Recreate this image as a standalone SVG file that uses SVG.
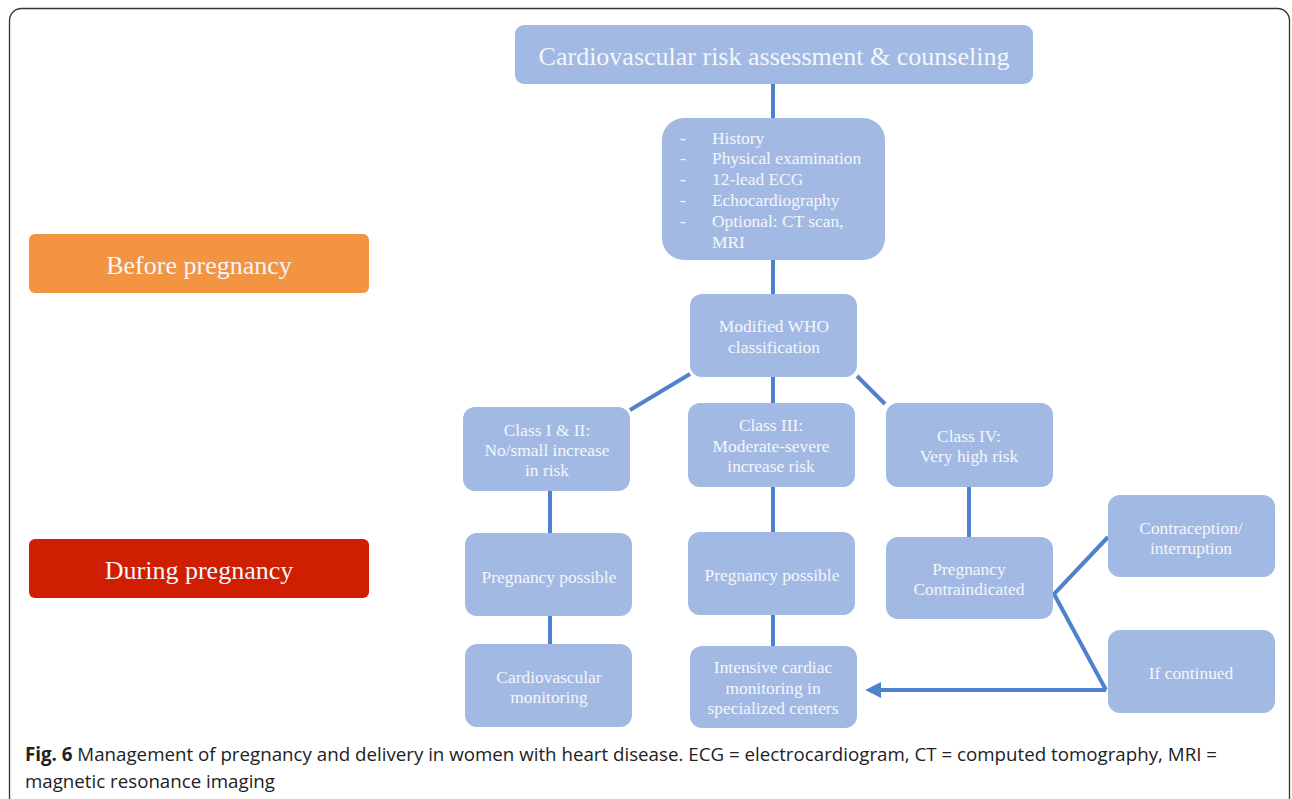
<svg xmlns="http://www.w3.org/2000/svg" width="1292" height="799" viewBox="0 0 1292 799">
<style>
.n{fill:#A2BAE3;}
.t{font-family:"Liberation Serif","Times New Roman",serif;font-size:17.4px;fill:#F4F6FB;text-anchor:middle;}
.tl{font-family:"Liberation Serif","Times New Roman",serif;font-size:17.4px;fill:#F4F6FB;}
.big{font-family:"Liberation Serif","Times New Roman",serif;font-size:26px;fill:#F4F6FB;text-anchor:middle;}
.c{stroke:#4E82CD;stroke-width:4;fill:none;}
.cap{font-family:"Open Sans","Noto Sans","Liberation Sans",sans-serif;font-size:19px;fill:#222;}
</style>
<defs>
<marker id="ah" viewBox="0 0 10 10" refX="2" refY="5" markerWidth="4" markerHeight="4" orient="auto-start-reverse" markerUnits="strokeWidth">
<path d="M0,0 L10,5 L0,10 Z" fill="#4E82CD"/>
</marker>
</defs>
<rect x="0" y="0" width="1292" height="799" fill="#FFFFFF"/>
<rect x="9.5" y="8.5" width="1280" height="830" rx="12" fill="none" stroke="#333" stroke-width="1.3"/>

<g id="connectors">
<line class="c" x1="773" y1="84" x2="773" y2="118"/>
<line class="c" x1="773" y1="260" x2="773" y2="294"/>
<line class="c" x1="690" y1="374" x2="630" y2="410"/>
<line class="c" x1="773" y1="377" x2="773" y2="404"/>
<line class="c" x1="857" y1="376" x2="885" y2="404"/>
<line class="c" x1="550" y1="491" x2="550" y2="533"/>
<line class="c" x1="773" y1="487" x2="773" y2="532"/>
<line class="c" x1="969" y1="487" x2="969" y2="537"/>
<line class="c" x1="550" y1="616" x2="550" y2="645"/>
<line class="c" x1="773" y1="615" x2="773" y2="646"/>
<polyline class="c" points="1108,537 1054,594 1106,690"/>
<line class="c" x1="1106" y1="690" x2="878" y2="690" marker-end="url(#ah)"/>
</g>

<g id="n-top"><rect class="n" x="515" y="25" width="518" height="59" rx="9"/><text class="big" x="774" y="65">Cardiovascular risk assessment &amp; counseling</text></g>

<g id="n-history"><rect class="n" x="662" y="118" width="223" height="142" rx="22"/>
<text class="tl" x="680" y="144">-</text><text class="tl" x="712" y="144">History</text>
<text class="tl" x="680" y="164">-</text><text class="tl" x="712" y="164">Physical examination</text>
<text class="tl" x="680" y="185">-</text><text class="tl" x="712" y="185">12-lead ECG</text>
<text class="tl" x="680" y="206">-</text><text class="tl" x="712" y="206">Echocardiography</text>
<text class="tl" x="680" y="227">-</text><text class="tl" x="712" y="227">Optional: CT scan,</text>
<text class="tl" x="712" y="248">MRI</text>
</g>

<g id="n-who"><rect class="n" x="690" y="294" width="167" height="83" rx="12"/><text class="t" x="774" y="332">Modified WHO</text><text class="t" x="774" y="353">classification</text></g>

<g id="n-class12"><rect class="n" x="463" y="407" width="167" height="84" rx="12"/><text class="t" x="547" y="436">Class I &amp; II:</text><text class="t" x="547" y="456">No/small increase</text><text class="t" x="547" y="476">in risk</text></g>

<g id="n-class3"><rect class="n" x="688" y="403" width="167" height="84" rx="12"/><text class="t" x="771" y="431">Class III:</text><text class="t" x="771" y="452">Moderate-severe</text><text class="t" x="771" y="472">increase risk</text></g>

<g id="n-class4"><rect class="n" x="886" y="403" width="167" height="84" rx="12"/><text class="t" x="969" y="442">Class IV:</text><text class="t" x="969" y="462">Very high risk</text></g>

<g id="n-pp1"><rect class="n" x="465" y="533" width="167" height="83" rx="12"/><text class="t" x="549" y="583">Pregnancy possible</text></g>

<g id="n-pp2"><rect class="n" x="688" y="532" width="167" height="83" rx="12"/><text class="t" x="772" y="581">Pregnancy possible</text></g>

<g id="n-pci"><rect class="n" x="886" y="537" width="167" height="82" rx="12"/><text class="t" x="969" y="575">Pregnancy</text><text class="t" x="969" y="595">Contraindicated</text></g>

<g id="n-contra"><rect class="n" x="1108" y="495" width="167" height="82" rx="12"/><text class="t" x="1191" y="534">Contraception/</text><text class="t" x="1191" y="554">interruption</text></g>

<g id="n-ifc"><rect class="n" x="1108" y="630" width="167" height="83" rx="12"/><text class="t" x="1191" y="679">If continued</text></g>

<g id="n-cvm"><rect class="n" x="465" y="644" width="167" height="83" rx="12"/><text class="t" x="549" y="683">Cardiovascular</text><text class="t" x="549" y="703">monitoring</text></g>

<g id="n-icm"><rect class="n" x="690" y="646" width="167" height="82" rx="12"/><text class="t" x="773" y="673">Intensive cardiac</text><text class="t" x="773" y="694">monitoring in</text><text class="t" x="773" y="714">specialized centers</text></g>

<g id="n-before"><rect x="29" y="234" width="340" height="59" rx="6" fill="#F29442"/><text class="big" x="199" y="274">Before pregnancy</text></g>

<g id="n-during"><rect x="29" y="539" width="340" height="59" rx="6" fill="#CF1E02"/><text class="big" x="199" y="579">During pregnancy</text></g>

<g id="caption">
<text class="cap" x="25" y="761" textLength="1192" lengthAdjust="spacingAndGlyphs"><tspan font-weight="bold">Fig. 6</tspan> Management of pregnancy and delivery in women with heart disease. ECG = electrocardiogram, CT = computed tomography, MRI =</text>
<text class="cap" x="25" y="788" textLength="250" lengthAdjust="spacingAndGlyphs">magnetic resonance imaging</text>
</g>
</svg>
